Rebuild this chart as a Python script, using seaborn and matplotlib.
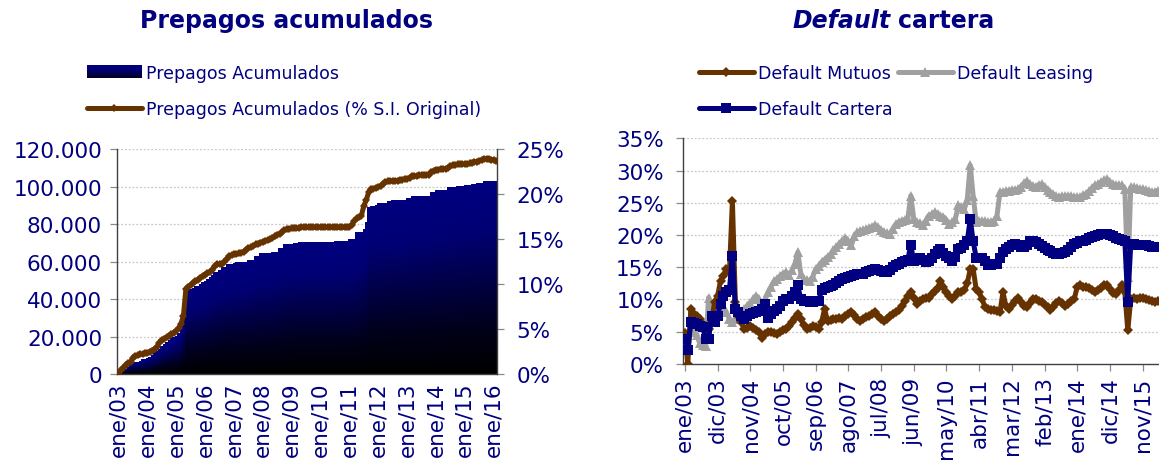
import numpy as np
import matplotlib
matplotlib.use("Agg")
import matplotlib.pyplot as plt
import seaborn as sns
from matplotlib.colors import LinearSegmentedColormap
from matplotlib.patches import Rectangle
from matplotlib.legend_handler import HandlerBase
from matplotlib.lines import Line2D

# meses (etiquetas del eje x), desde ene/03
MESES = ["ene", "feb", "mar", "abr", "may", "jun", "jul", "ago", "sep", "oct", "nov", "dic"]

# Prepagos acumulados (monto) - ene/03 .. feb/16
prepagos = [
    500, 1500, 2500, 2700, 3500, 5000, 6200, 6300, 6400, 7000,
    8000, 8200, 8300, 9000, 10000, 11700, 12500, 13500, 15000, 16000,
    17000, 18000, 19000, 19700, 20500, 22000, 24000, 29300, 44000, 45300,
    45500, 46000, 47000, 47200, 48000, 49000, 49800, 50500, 52000, 53000,
    54200, 54500, 55500, 57000, 57200, 58500, 58700, 58800, 59000, 59500,
    59700, 59700, 59900, 60000, 61000, 61000, 61000, 63100, 63100, 64500,
    64500, 64500, 64500, 64500, 65200, 65200, 65200, 67000, 67000, 69300,
    69300, 69300, 69300, 69900, 69900, 70600, 70600, 70600, 70600, 70600,
    70600, 70600, 70600, 70600, 70600, 70600, 70600, 70600, 70600, 70600,
    71100, 71100, 71100, 71100, 71100, 71100, 72000, 72000, 72000, 75600,
    75600, 75600, 77300, 80900, 88900, 89800, 89800, 90300, 91200, 91200,
    91200, 91200, 92400, 92400, 92800, 92800, 92800, 92800, 92800, 92800,
    93900, 93900, 94800, 94800, 94800, 94800, 94800, 94800, 94800, 94800,
    97200, 97200, 98100, 98100, 98100, 98100, 98100, 99500, 99500, 99500,
    99500, 100100, 100100, 100100, 100800, 100800, 100800, 101300, 101300, 101900,
    101900, 101900, 102800, 102800, 102800, 102800, 102800, 102800,
]

# Prepagos acumulados (% S.I. original)
prepagos_pct = [
    0.0, 0.4, 0.7, 1.0, 1.2, 1.3, 1.8, 2.0, 2.1, 2.2,
    2.2, 2.3, 2.3, 2.5, 2.6, 2.8, 3.0, 3.5, 3.8, 3.9,
    4.1, 4.2, 4.4, 4.6, 4.8, 5.1, 5.6, 6.5, 9.4, 9.7,
    9.9, 10.1, 10.3, 10.5, 10.7, 10.9, 11.0, 11.2, 11.3, 11.6,
    12.0, 12.2, 12.2, 12.2, 12.5, 12.8, 13.1, 13.2, 13.3, 13.3,
    13.4, 13.5, 13.6, 13.8, 14.0, 14.1, 14.2, 14.4, 14.5, 14.6,
    14.7, 14.8, 14.9, 15.0, 15.1, 15.3, 15.5, 15.6, 15.8, 16.0,
    16.1, 16.1, 16.2, 16.2, 16.2, 16.2, 16.3, 16.3, 16.3, 16.3,
    16.3, 16.3, 16.3, 16.3, 16.3, 16.3, 16.3, 16.3, 16.3, 16.3,
    16.3, 16.3, 16.3, 16.3, 16.3, 16.3, 16.3, 16.6, 17.0, 17.3,
    17.4, 17.6, 18.7, 19.3, 20.2, 20.6, 20.6, 20.7, 20.8, 20.9,
    21.1, 21.3, 21.4, 21.4, 21.5, 21.5, 21.5, 21.6, 21.6, 21.7,
    21.7, 21.8, 22.0, 22.0, 22.0, 22.1, 22.1, 22.1, 22.1, 22.1,
    22.4, 22.6, 22.7, 22.7, 22.8, 22.8, 22.8, 22.9, 23.1, 23.2,
    23.2, 23.3, 23.3, 23.3, 23.3, 23.3, 23.4, 23.5, 23.6, 23.6,
    23.7, 23.8, 23.9, 23.9, 23.9, 23.8, 23.8, 23.7,
]

# Default (%) - ene/03 .. abr/16
default_mutuos = [
    4.8, 0.0, 8.5, 7.8, 7.4, 7.0, 6.2, 5.9, 5.4, 6.5,
    9.6, 10.5, 12.9, 13.7, 14.7, 14.3, 25.3, 9.6, 7.5, 6.5,
    5.4, 5.6, 5.9, 5.6, 5.2, 4.9, 4.1, 4.6, 4.9, 5.0,
    4.8, 4.7, 4.9, 5.2, 5.5, 5.9, 6.5, 7.2, 7.8, 7.0,
    6.0, 5.4, 5.6, 5.9, 5.8, 5.4, 6.5, 8.5, 6.7, 6.8,
    7.0, 7.0, 7.1, 7.0, 7.4, 7.7, 8.0, 7.6, 7.0, 6.7,
    7.0, 7.3, 7.5, 7.8, 8.0, 7.5, 7.0, 6.7, 7.0, 7.5,
    7.8, 8.0, 8.4, 9.0, 9.7, 10.6, 11.1, 10.3, 9.3, 9.8,
    10.1, 10.2, 10.3, 10.8, 11.3, 11.8, 12.9, 12.0, 11.1, 10.5,
    10.1, 10.6, 11.1, 11.2, 11.4, 12.5, 14.7, 14.7, 11.6, 11.1,
    10.0, 8.8, 8.6, 8.4, 8.3, 8.2, 8.0, 11.1, 9.0, 8.5,
    9.2, 9.8, 10.3, 9.6, 9.0, 8.8, 9.5, 10.1, 10.0, 9.8,
    9.6, 9.2, 8.8, 8.3, 8.8, 9.5, 9.8, 9.5, 9.0, 9.3,
    9.8, 10.1, 12.0, 12.2, 12.0, 11.9, 11.8, 11.5, 11.1, 11.5,
    11.8, 12.2, 12.2, 11.6, 11.0, 10.9, 11.5, 12.2, 11.1, 5.2,
    10.1, 10.3, 10.1, 10.2, 10.3, 10.1, 9.9, 9.8, 9.6, 9.7,
]
default_leasing = [
    2.8, 3.0, 5.5, 5.0, 4.5, 3.2, 3.0, 2.8, 10.3, 7.0,
    8.5, 9.0, 9.2, 8.8, 8.0, 7.0, 6.5, 7.0, 7.5, 8.0,
    8.5, 9.0, 9.5, 10.0, 10.6, 10.0, 9.0, 10.0, 11.1, 12.0,
    12.8, 13.2, 13.6, 14.0, 14.2, 13.8, 14.5, 15.5, 17.3, 14.0,
    13.2, 13.0, 12.9, 13.5, 14.7, 15.2, 15.8, 16.2, 16.6, 17.0,
    17.6, 18.1, 18.6, 19.1, 19.6, 19.0, 18.4, 19.8, 20.4, 20.6,
    20.8, 20.9, 21.1, 21.3, 21.5, 21.2, 20.8, 20.4, 20.3, 20.2,
    21.0, 21.7, 22.0, 22.2, 22.4, 22.5, 26.1, 22.5, 22.0, 21.8,
    21.5, 22.2, 23.0, 23.2, 23.5, 23.3, 23.0, 22.8, 22.3, 21.7,
    22.0, 22.5, 24.6, 24.3, 24.0, 25.5, 30.8, 26.0, 22.0, 22.1,
    22.2, 22.1, 22.0, 22.0, 22.2, 23.0, 26.6, 26.7, 26.8, 26.9,
    27.0, 27.0, 27.1, 27.5, 28.0, 28.4, 27.9, 27.6, 27.5, 27.8,
    27.9, 27.5, 27.0, 26.6, 26.3, 26.0, 25.9, 26.0, 26.0, 26.1,
    26.0, 25.9, 25.9, 25.9, 26.2, 26.4, 26.8, 27.3, 27.7, 27.9,
    28.2, 28.5, 28.7, 28.2, 27.9, 27.8, 27.7, 27.7, 27.1, 13.5,
    27.4, 27.4, 27.3, 27.2, 27.1, 27.0, 26.9, 26.6, 26.7, 26.9,
]
default_cartera = [
    3.9, 2.1, 6.5, 6.3, 6.2, 5.9, 5.7, 3.9, 3.9, 7.5,
    6.5, 7.5, 9.3, 10.6, 11.1, 11.5, 16.8, 8.5, 8.0, 7.5,
    7.0, 7.4, 7.8, 7.9, 8.0, 8.2, 8.5, 9.3, 7.2, 7.8,
    8.2, 8.5, 9.0, 9.8, 10.0, 10.1, 10.5, 11.1, 12.2, 10.0,
    9.8, 9.7, 9.6, 9.6, 9.8, 9.8, 11.4, 11.8, 12.0, 12.1,
    12.2, 12.5, 12.8, 13.2, 13.3, 13.5, 13.7, 13.8, 13.9, 14.0,
    14.0, 14.2, 14.4, 14.6, 14.7, 14.6, 14.4, 14.2, 14.2, 14.5,
    15.0, 15.3, 15.5, 15.8, 16.0, 16.2, 18.4, 16.0, 16.2, 16.5,
    16.2, 15.8, 16.0, 16.5, 17.0, 17.5, 17.8, 17.2, 16.8, 16.4,
    16.0, 16.6, 17.8, 18.0, 18.4, 19.0, 22.5, 19.0, 16.5, 16.5,
    16.5, 16.0, 15.3, 15.4, 15.5, 15.5, 16.5, 17.3, 17.8, 18.1,
    18.4, 18.6, 18.4, 18.2, 18.1, 18.5, 19.0, 19.1, 18.9, 18.6,
    18.3, 18.0, 17.7, 17.5, 17.2, 17.1, 17.1, 17.2, 17.3, 17.6,
    18.2, 18.6, 18.8, 19.0, 19.1, 19.3, 19.5, 19.7, 19.9, 20.0,
    20.1, 20.2, 20.2, 20.0, 19.8, 19.6, 19.4, 19.2, 19.1, 9.6,
    18.6, 18.6, 18.5, 18.5, 18.4, 18.4, 18.3, 18.2, 18.1, 18.1,
]

NAVY = "#000080"
BROWN = "#663300"
GRAY = "#a0a0a0"
GRID = "#c8c8c8"
SPINE = "#404040"
FS_TICK = 15.5
FS_LEG = 12.5
FS_TITLE = 17


def etiqueta(k):
    return f"{MESES[k % 12]}/{3 + k // 12:02d}"


sns.set_theme(style="white")
plt.rcParams["font.family"] = ["DejaVu Sans"]

fig = plt.figure(figsize=(11.59, 4.64), dpi=100)
gradiente = LinearSegmentedColormap.from_list(
    "prep", [(0.0, "#000000"), (0.25, "#00001c"), (0.5, "#000048"),
             (0.75, "#000074"), (1.0, "#000080")])

# ---------------- Prepagos acumulados ----------------
n1 = len(prepagos)
x1 = np.arange(n1)
ax1 = fig.add_axes([0.1012, 0.1918, 0.3279, 0.4849])
sns.barplot(x=x1, y=prepagos, ax=ax1, color=NAVY, saturation=1, width=1.0,
            edgecolor="none", linewidth=0, zorder=1)
# relleno degradado dentro de cada barra (azul arriba, negro abajo)
ys = np.linspace(0, 120000, 1200)
frac = ys[:, None] / np.array(prepagos, dtype=float)[None, :]
ax1.imshow(np.ma.masked_where(frac > 1, frac), extent=[-0.5, n1 - 0.5, 0, 120000],
           origin="lower", aspect="auto", cmap=gradiente, vmin=0, vmax=1,
           interpolation="nearest", zorder=1.1)
ax1.set_xlim(-0.5, n1 - 0.5)
ax1.set_ylim(0, 120000)
yt1 = np.arange(0, 120001, 20000)
for v in yt1[1:]:
    ax1.axhline(v, color=GRID, lw=0.9, ls=(0, (1.5, 1.5)), zorder=0.5)
ax1.set_yticks(yt1)
ax1.set_yticklabels([f"{v:,}".replace(",", ".") for v in yt1], color=NAVY, fontsize=FS_TICK)
ax1.set_xticks(x1)
ax1.set_xticklabels([etiqueta(k) if k % 12 == 0 else "" for k in x1],
                    rotation=90, color=NAVY, fontsize=FS_TICK)
ax1.tick_params(axis="x", direction="inout", length=7, width=0.7, color="#8a8a8a", pad=2)
ax1.tick_params(axis="y", direction="out", length=5, width=0.9, color="#8a8a8a", pad=6, left=True)
ax1.set_xlabel("")
ax1.set_ylabel("")
for s in ["top", "right"]:
    ax1.spines[s].set_visible(False)
for s in ["left", "bottom"]:
    ax1.spines[s].set_color(SPINE)
    ax1.spines[s].set_linewidth(1.0)

ax2 = ax1.twinx()
sns.lineplot(x=x1, y=prepagos_pct, ax=ax2, color=BROWN, lw=3.6, marker="D",
             markersize=4.5, markeredgewidth=0, zorder=3)
ax2.set_ylim(0, 25)
ax2.set_yticks(np.arange(0, 26, 5))
ax2.set_yticklabels([f"{v}%" for v in range(0, 26, 5)], color=NAVY, fontsize=FS_TICK)
ax2.tick_params(axis="y", direction="out", length=5, width=0.9, color="#8a8a8a", pad=9, right=True)
ax2.set_ylabel("")
for s in ["top", "left", "bottom"]:
    ax2.spines[s].set_visible(False)
ax2.spines["right"].set_color(SPINE)
ax2.spines["right"].set_linewidth(1.0)


class HandlerDegradado(HandlerBase):
    def create_artists(self, legend, orig_handle, xdescent, ydescent, width, height, fontsize, trans):
        tiras = []
        k = 10
        for j in range(k):
            c = gradiente(0.3 + 0.7 * (j + 0.5) / k)
            r = Rectangle((-xdescent, -ydescent + height * j / k), width, height / k + 0.2,
                          facecolor=c, edgecolor="none", transform=trans)
            tiras.append(r)
        return tiras


h_bar = Rectangle((0, 0), 1, 1, facecolor=NAVY)
h_pct = Line2D([], [], color=BROWN, lw=3.6, marker="D", markersize=4.5, markeredgewidth=0)
fig.legend([h_bar, h_pct], ["Prepagos Acumulados", "Prepagos Acumulados (% S.I. Original)"],
           handler_map={Rectangle: HandlerDegradado()},
           loc="upper left", bbox_to_anchor=(78 / 1159, 1 - 56 / 464), frameon=False,
           fontsize=FS_LEG, labelcolor=NAVY, handlelength=3.2, handletextpad=0.2,
           labelspacing=1.05, borderpad=0)

fig.text(0.2476, 0.94, "Prepagos acumulados", ha="center", va="baseline",
         fontsize=FS_TITLE, fontweight="bold", color=NAVY)

# ---------------- Default cartera ----------------
n2 = len(default_cartera)
x2 = np.arange(n2)
ax3 = fig.add_axes([0.5896, 0.2134, 0.4104, 0.4864])
series = [
    (default_leasing, GRAY, "^", 6.5, 2),
    (default_mutuos, BROWN, "D", 5.0, 3),
    (default_cartera, NAVY, "s", 6.5, 4),
]
for vals, col, mk, ms, z in series:
    sns.lineplot(x=x2, y=vals, ax=ax3, color=col, lw=3.6, marker=mk, markersize=ms,
                 markeredgewidth=0, zorder=z)
ax3.set_xlim(-0.5, n2 - 0.5)
ax3.set_ylim(0, 35)
yt3 = np.arange(0, 36, 5)
for v in yt3[1:]:
    ax3.axhline(v, color=GRID, lw=0.9, ls=(0, (1.5, 1.5)), zorder=0.5)
ax3.set_yticks(yt3)
ax3.set_yticklabels([f"{v}%" for v in yt3], color=NAVY, fontsize=FS_TICK)
xt3 = np.arange(0, n2, 11)
ax3.set_xticks(xt3)
ax3.set_xticklabels([etiqueta(k) for k in xt3], rotation=90, color=NAVY, fontsize=FS_TICK)
ax3.tick_params(axis="x", direction="out", length=5, width=0.9, color="#8a8a8a", pad=4, bottom=True)
ax3.tick_params(axis="y", direction="out", length=5, width=0.9, color="#8a8a8a", pad=9, left=True)
ax3.set_xlabel("")
ax3.set_ylabel("")
for s in ["top", "right"]:
    ax3.spines[s].set_visible(False)
for s in ["left", "bottom"]:
    ax3.spines[s].set_color(SPINE)
    ax3.spines[s].set_linewidth(1.0)

h_mut = Line2D([], [], color=BROWN, lw=3.6, marker="D", markersize=5, markeredgewidth=0)
h_lea = Line2D([], [], color=GRAY, lw=3.6, marker="^", markersize=6.5, markeredgewidth=0)
h_car = Line2D([], [], color=NAVY, lw=3.6, marker="s", markersize=6.5, markeredgewidth=0)
fig.legend([h_mut, h_car, h_lea], ["Default Mutuos", "Default Cartera", "Default Leasing"],
           ncol=2, loc="upper left", bbox_to_anchor=(690 / 1159, 1 - 56 / 464), frameon=False,
           fontsize=FS_LEG, labelcolor=NAVY, handlelength=3.2, handletextpad=0.2,
           labelspacing=1.05, columnspacing=0.3, borderpad=0)

fig.text(891 / 1159, 0.94, "Default", ha="right", va="baseline",
         fontsize=FS_TITLE, fontweight="bold", fontstyle="italic", color=NAVY)
fig.text(898 / 1159, 0.94, "cartera", ha="left", va="baseline",
         fontsize=FS_TITLE, fontweight="bold", color=NAVY)

fig.savefig("out.png", dpi=100)
